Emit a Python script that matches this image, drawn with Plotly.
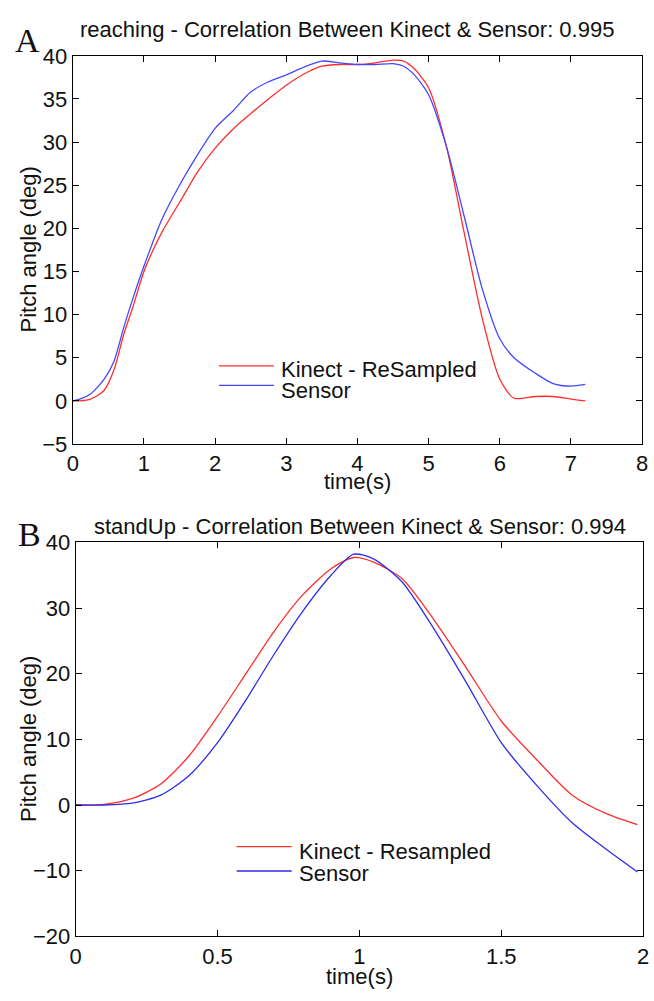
import plotly.graph_objects as go

# ---------------- data ----------------
# Panel A: reaching
time_a = [0, 0.1, 0.25, 0.44, 0.58, 0.72, 0.85, 1.0, 1.25, 1.5, 1.75, 2.0, 2.25, 2.5,
          2.75, 3.0, 3.25, 3.5, 3.75, 4.0, 4.25, 4.5, 4.65, 4.8, 5.0, 5.25, 5.5, 5.75,
          6.0, 6.2, 6.5, 6.75, 7.0, 7.2]
kinect_a = [0, 0, 0.2, 1.2, 3.6, 7.8, 11.0, 15.0, 19.5, 23.0, 26.5, 29.3, 31.5, 33.3,
            35.0, 36.6, 37.9, 38.8, 39.0, 39.0, 39.2, 39.5, 39.4, 38.5, 36.3, 29.5, 19.5, 9.7,
            2.5, 0.3, 0.5, 0.5, 0.2, 0.0]
sensor_a = [0, 0.2, 0.8, 2.5, 4.6, 8.6, 12.0, 15.6, 21.0, 25.0, 28.5, 31.6, 33.6, 35.8,
            37.0, 37.8, 38.7, 39.4, 39.2, 39.0, 39.0, 39.1, 38.8, 37.8, 35.5, 29.5, 21.4, 13.1,
            7.2, 5.0, 3.2, 2.0, 1.7, 1.9]

# Panel B: standUp
time_b = [0, 0.1, 0.2, 0.3, 0.4, 0.5, 0.6, 0.7, 0.8, 0.9, 0.98, 1.05, 1.15, 1.25,
          1.375, 1.5, 1.625, 1.75, 1.875, 1.98]
kinect_b = [0, 0.1, 1.0, 3.2, 7.5, 13.5, 20.0, 26.5, 32.0, 36.0, 37.7, 37.0, 34.5, 29.0,
            21.0, 12.8, 6.9, 1.5, -1.4, -3.0]
sensor_b = [0, 0, 0.3, 1.5, 4.5, 9.5, 16.0, 23.0, 29.5, 35.0, 38.2, 37.5, 34.0, 27.7,
            18.8, 9.5, 3.0, -2.7, -6.9, -10.2]

title_a = "reaching - Correlation Between Kinect & Sensor: 0.995"
title_b = "standUp - Correlation Between Kinect & Sensor: 0.994"
legend_a = ["Kinect - ReSampled", "Sensor"]
legend_b = ["Kinect - Resampled", "Sensor"]
xticks_a = [0, 1, 2, 3, 4, 5, 6, 7, 8]
yticks_a = [-5, 0, 5, 10, 15, 20, 25, 30, 35, 40]
xticks_b = [0, 0.5, 1, 1.5, 2]
yticks_b = [-20, -10, 0, 10, 20, 30, 40]

# ---------------- figure ----------------
W, H = 654, 1001
RED = "rgb(255,45,45)"
BLUE = "rgb(70,70,255)"
BLUE_B = "rgb(45,45,235)"
FONT = "Liberation Sans, Arial, sans-serif"
FS = 22
TXT = "#111"


def px(x):
    return x / W


def py(y):
    return 1 - y / H


fig = go.Figure()


def add_line(x, y, xa, ya, name, color):
    fig.add_trace(go.Scatter(x=x, y=y, xaxis=xa, yaxis=ya, name=name, mode="lines",
                             line=dict(width=1.3, shape="spline", smoothing=0.7, color=color),
                             showlegend=False, hoverinfo="skip"))


add_line(time_a, kinect_a, "x", "y", legend_a[0], RED)
add_line(time_a, sensor_a, "x", "y", legend_a[1], BLUE)
add_line(time_b, kinect_b, "x2", "y2", legend_b[0], RED)
add_line(time_b, sensor_b, "x2", "y2", legend_b[1], BLUE_B)

axis_common = dict(showline=True, linecolor="black", linewidth=1, mirror="ticks",
                   ticks="inside", ticklen=6, tickcolor="black", showgrid=False,
                   zeroline=False, ticklabeloverflow="allow",
                   tickfont=dict(family=FONT, size=FS, color=TXT))

fig.update_layout(
    width=W, height=H,
    margin=dict(l=0, r=0, t=0, b=0),
    paper_bgcolor="white", plot_bgcolor="white",
    font=dict(family=FONT, size=FS, color=TXT),
    xaxis=dict(domain=[px(68), px(648)], anchor="y", range=[0, 8], tickvals=xticks_a,
               **axis_common),
    yaxis=dict(domain=[py(443), py(45)], anchor="x", range=[-5, 40], tickvals=yticks_a,
               **axis_common),
    xaxis2=dict(domain=[px(71), px(649)], anchor="y2", range=[0, 2], tickvals=xticks_b,
                ticktext=["0", "0.5", "1", "1.5", "2"], **axis_common),
    yaxis2=dict(domain=[py(948), py(544)], anchor="x2", range=[-20, 40], tickvals=yticks_b,
                **axis_common),
)

ann = []


def text(t, x, y, size=FS, family=FONT, xanchor="center", angle=0):
    ann.append(dict(text=t, x=px(x), y=py(y), xref="paper", yref="paper",
                    xanchor=xanchor, yanchor="middle", showarrow=False, textangle=angle,
                    font=dict(family=family, size=size, color=TXT)))


# titles
text(title_a, 347, 18)
text(title_b, 361, 528)
# panel letters
SERIF = "Liberation Serif, Times New Roman, serif"
text("A", 22, 29, size=34, family=SERIF)
text("B", 24, 536, size=34, family=SERIF)
# axis titles
text("time(s)", 358, 482)
text("time(s)", 360, 989)
text("Pitch angle (deg)", 23, 244, angle=-90)
text("Pitch angle (deg)", 23, 746, angle=-90)

# legends (key lines + labels)
shapes = []


def legend(x0, x1, ys, labels, colors, tx, tys):
    for y, lab, col, ty in zip(ys, labels, colors, tys):
        shapes.append(dict(type="line", xref="paper", yref="paper", x0=px(x0), x1=px(x1),
                           y0=py(y), y1=py(y), line=dict(color=col, width=1.3)))
        text(lab, tx, ty, xanchor="left")


legend(217, 273, [363, 383], legend_a, [RED, BLUE], 278, [367, 388])
legend(235, 291, [856, 881], legend_b, [RED, BLUE_B], 296, [861, 884])

fig.update_layout(annotations=ann, shapes=shapes)
fig.write_html("out.html", config={"displayModeBar": False},
               post_script="document.body.style.margin='0';document.body.style.overflow='hidden';")
